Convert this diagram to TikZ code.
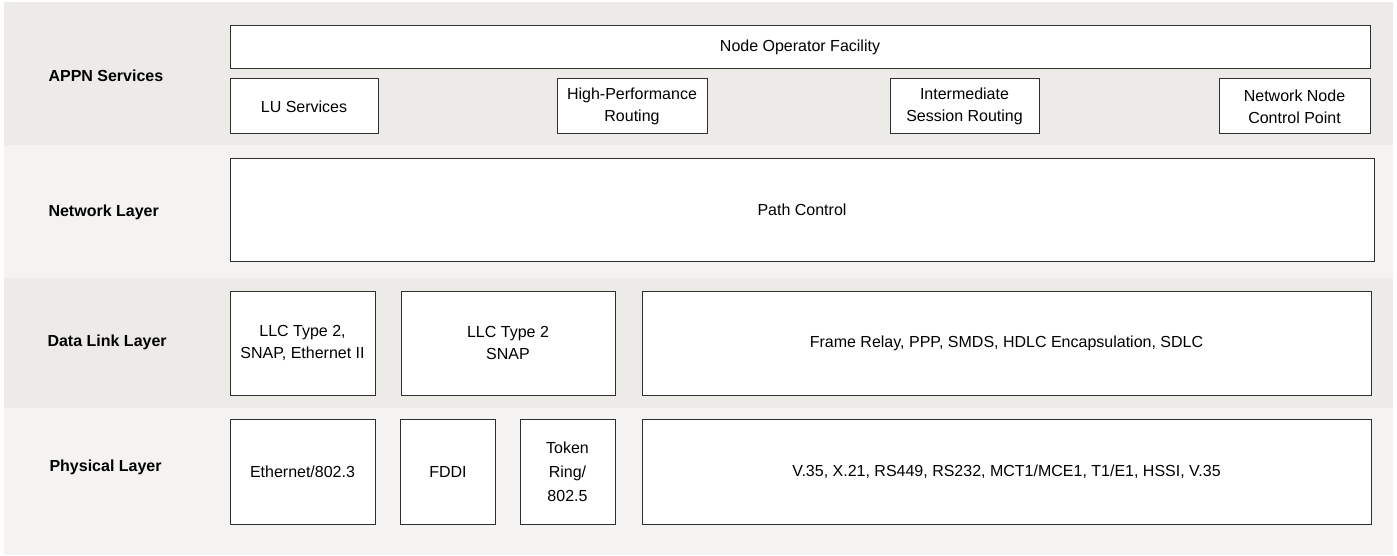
\documentclass[tikz,border=0pt]{standalone}
\usepackage{fontspec}
\setmainfont{Liberation Sans}
\usepackage{tikz}

\definecolor{banddark}{HTML}{EDEBE8}
\definecolor{bandlight}{HTML}{F4F3F1}
\definecolor{boxline}{HTML}{303030}

\begin{document}
\begin{tikzpicture}[
            x = 1pt, y = -1pt, % one unit per pixel, y going down
            every node/.style = {font=\fontsize{16}{22}\selectfont},
            layer/.style = {font=\fontsize{16}{22}\selectfont\bfseries, anchor=west}, % row titles
            box/.style = {
                draw = boxline,
                fill = white,
                line width = 1pt,
                align = center,
                inner sep = 0pt
            }
        ]
        \useasboundingbox (0,0) rectangle (1397,556);

        % background bands
        \fill[banddark] (4,2) rectangle (1393,145);
        \fill[bandlight] (4,145) rectangle (1393,277.5);
        \fill[banddark] (4,277.5) rectangle (1393,407.5);
        \fill[bandlight] (4,407.5) rectangle (1393,555);

        % row titles
        \node[layer] (appn) at (45,76) {APPN Services};
        \node[layer] (net) at (45,212) {Network Layer};
        \node[layer] (dll) at (44,342) {Data Link Layer};
        \node[layer] (phy) at (46,467) {Physical Layer};

        % APPN services
        \node[box, minimum width=1140pt, minimum height=43pt] (NOF) at (800,47.5) {Node Operator Facility};
        \node[box, minimum width=148pt, minimum height=55pt] (LU) at (304,106.5) {LU Services};
        \node[box, minimum width=150pt, minimum height=55pt] (HPR) at (632,106.5) {High-Performance\\Routing};
        \node[box, minimum width=149pt, minimum height=55pt] (ISR) at (964.5,106.5) {Intermediate\\Session Routing};
        \node[box, minimum width=151pt, minimum height=55pt] (NNCP) at (1294.5,106.5) {Network Node\\Control Point};

        % network layer
        \node[box, minimum width=1144pt, minimum height=102pt] (PC) at (802,210) {Path Control};

        % data link layer
        \node[box, minimum width=145pt, minimum height=104.5pt] (LLCE) at (302.5,343.3) {LLC Type 2,\\SNAP, Ethernet II};
        \node[box, minimum width=214pt, minimum height=104.5pt] (LLCS) at (508,343.3) {LLC Type 2\\SNAP};
        \node[box, minimum width=729pt, minimum height=104.5pt] (FR) at (1006.5,343.3) {Frame Relay, PPP, SMDS, HDLC Encapsulation, SDLC};

        % physical layer
        \node[box, minimum width=145pt, minimum height=104.7pt] (ETH) at (302.5,471.7) {Ethernet/802.3};
        \node[box, minimum width=94.5pt, minimum height=104.7pt] (FDDI) at (448,471.7) {FDDI};
        \node[box, minimum width=95pt, minimum height=104.7pt, font=\fontsize{16}{24}\selectfont] (TR) at (567.5,471.7) {Token\\Ring/\\802.5};
        \node[box, minimum width=729pt, minimum height=104.7pt] (SER) at (1006.5,471.7) {V.35, X.21, RS449, RS232, MCT1/MCE1, T1/E1, HSSI, V.35};
    \end{tikzpicture}
\end{document}
